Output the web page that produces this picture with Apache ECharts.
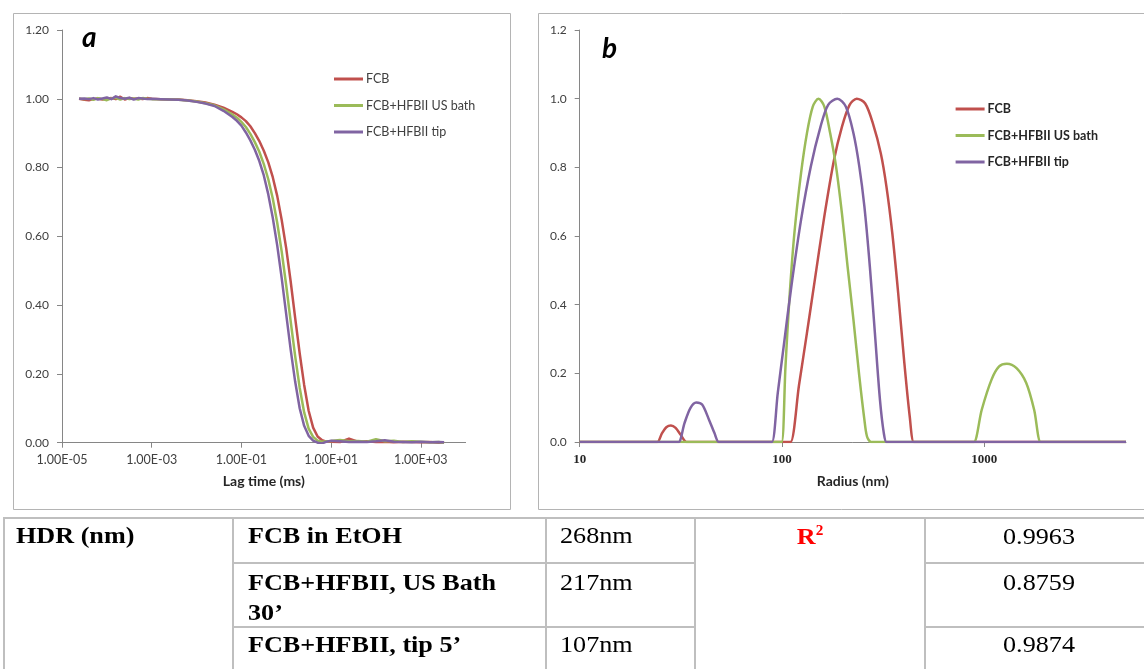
<!DOCTYPE html>
<html><head><meta charset="utf-8">
<script src="https://cdn.jsdelivr.net/npm/echarts@6/dist/echarts.min.js"></script>
<style>
html,body{margin:0;padding:0;background:#fff;}
#chart{position:absolute;left:0;top:0;width:1144px;height:669px;}
#tbl{position:absolute;left:0;top:0;}
#tbl text{font-family:"Liberation Serif","Times New Roman",serif;font-size:24px;fill:#000;}
</style>
</head><body>
<div id="chart"></div>
<svg id="tbl" width="1144" height="669"></svg>
<script>
// ---------- Data ----------
const seriesNames = ['FCB', 'FCB+HFBII US bath', 'FCB+HFBII tip'];
const seriesColors = ['#C0504D', '#9BBB59', '#8064A2'];

// (a) correlation functions, lag time given as log10(ms)
const lagLog10 = [-4.62,-4.5,-4.4,-4.3,-4.2,-4.1,-4.0,-3.9,-3.8,-3.7,-3.6,-3.5,-3.4,-3.3,-3.2,-3.1,-3.0,
  -2.8,-2.6,-2.4,-2.2,-2.0,-1.8,-1.6,-1.4,-1.2,
  -1.1,-1.0,-0.9,-0.8,-0.7,-0.6,-0.5,-0.4,-0.3,-0.2,-0.1,0.0,0.1,0.2,0.3,0.4,0.5,0.6,0.7,0.8,0.9,1.0,
  1.2,1.4,1.6,1.8,2.0,2.2,2.4,2.6,2.8,3.0,3.2,3.4,3.52];
const corrFCB = [1.000,0.997,0.996,0.999,1.001,0.998,1.000,1.002,0.999,1.006,0.998,1.002,1.000,1.001,0.999,1.002,1.000,
  0.999,0.998,0.998,0.996,0.993,0.989,0.983,0.974,0.962,
  0.955,0.946,0.935,0.920,0.900,0.877,0.849,0.815,0.772,0.717,0.647,0.565,0.468,0.362,0.260,0.168,0.093,0.044,0.018,0.007,0.003,0.003,
  0.002,0.012,0.003,0.004,0.002,0.003,0.001,0.003,0.002,0.001,0.002,0.000,0.001];
const corrBath = [1.000,0.999,1.001,0.997,1.002,0.999,0.996,1.001,1.003,0.998,1.002,0.999,1.001,0.998,1.002,1.000,0.999,
  0.999,0.998,0.997,0.995,0.992,0.987,0.981,0.969,0.954,
  0.945,0.933,0.918,0.898,0.874,0.846,0.810,0.766,0.710,0.639,0.555,0.457,0.352,0.251,0.160,0.088,0.041,0.017,0.006,0.003,0.004,0.005,
  0.008,0.004,0.005,0.003,0.010,0.004,0.006,0.002,0.004,0.003,0.001,0.002,0.000];
const corrTip = [1.000,1.001,0.999,1.002,0.998,1.001,1.004,0.999,1.007,1.002,1.000,1.003,0.998,1.002,1.001,0.999,1.000,
  0.999,0.998,0.997,0.995,0.991,0.986,0.979,0.965,0.947,
  0.936,0.922,0.902,0.879,0.852,0.819,0.777,0.722,0.654,0.573,0.478,0.373,0.270,0.177,0.100,0.049,0.020,0.006,0.000,-0.002,0.003,0.006,
  0.004,0.002,0.003,0.002,0.004,0.007,0.003,0.002,0.001,0.003,0.001,0.002,0.001];
const lagTickExponents = [-5, -3, -1, 1, 3];

// (b) size distributions, radius given as log10(nm)
const fcbLogR = [1.0,1.364,1.384,1.407,1.428,1.451,1.474,1.499,1.528,1.548,
  2.022,2.042,2.084,2.123,2.161,2.209,2.257,2.296,2.334,2.369,2.411,2.449,2.488,2.516,2.545,2.574,2.603,2.631,2.651,2.671,3.7];
const fcbInt  = [0,0,0,0.026,0.043,0.048,0.041,0.021,0,0,
  0,0,0.166,0.317,0.468,0.657,0.822,0.918,0.982,1.0,0.986,0.928,0.841,0.744,0.608,0.434,0.240,0.075,0,0,0];
const bathLogR = [1.0,1.978,1.998,2.017,2.036,2.061,2.094,2.123,2.152,2.180,2.209,2.238,2.267,2.296,2.324,2.353,2.382,2.407,2.420,2.44,2.46,
  2.928,2.948,2.987,3.035,3.073,3.111,3.159,3.207,3.246,3.278,3.298,3.7];
const bathInt  = [0,0,0,0.22,0.414,0.608,0.783,0.899,0.977,1.0,0.977,0.899,0.802,0.666,0.511,0.356,0.191,0.065,0.016,0,0,
  0,0,0.094,0.181,0.22,0.228,0.215,0.172,0.094,0,0,0];
const tipLogR = [1.0,1.469,1.489,1.518,1.547,1.576,1.605,1.639,1.666,1.687,1.707,
  1.930,1.950,1.979,2.008,2.046,2.094,2.142,2.190,2.228,2.273,2.315,2.353,2.382,2.407,2.434,2.459,2.484,2.503,2.516,2.536,3.7];
const tipInt  = [0,0,0,0.055,0.099,0.115,0.109,0.065,0.026,0,0,
  0,0,0.143,0.278,0.453,0.647,0.802,0.918,0.982,1.0,0.977,0.899,0.802,0.686,0.511,0.317,0.123,0.026,0,0,0];
const radiusTickExponents = [1, 2, 3];

// table
const tableRows = [
  ['FCB in EtOH', '268nm', '0.9963'],
  ['FCB+HFBII, US Bath|30\u2019', '217nm', '0.8759'],
  ['FCB+HFBII, tip 5\u2019', '107nm', '0.9874']
];

// ---------- Chart ----------
const zip = (xs, ys) => xs.map((x, i) => [x, ys[i]]);
const font = 'Lato, "Open Sans", sans-serif';
const lbl = '#404040';
const axisLine = { show: true, onZero: false, lineStyle: { color: '#868686', width: 1 } };
const axisTick = { show: true, length: 5, lineStyle: { color: '#868686' } };

const chart = echarts.init(document.getElementById('chart'), null, { renderer: 'canvas' });

function lineSeries(name, idx, data, color, smooth) {
  return {
    name, type: 'line', xAxisIndex: idx, yAxisIndex: idx, data,
    showSymbol: false, symbol: 'none', smooth: smooth, animation: false,
    lineStyle: { color, width: 2.5, join: 'round' }, itemStyle: { color }
  };
}

const option = {
  backgroundColor: '#fff',
  animation: false,
  textStyle: { fontFamily: font },
  grid: [
    { left: 62, top: 30, width: 403.6, height: 412.7 },
    { left: 579.7, top: 30, width: 546.3, height: 412 }
  ],
  xAxis: [
    {
      type: 'value', gridIndex: 0, min: -5, max: 4, interval: 1,
      axisLine, axisTick: Object.assign({ customValues: lagTickExponents }, axisTick),
      splitLine: { show: false },
      axisLabel: {
        customValues: lagTickExponents, margin: 11, color: lbl, fontSize: 12.5, fontFamily: font,
        formatter: v => { const e = Math.round(v); return '1.00E' + (e < 0 ? '-' : '+') + String(Math.abs(e)).padStart(2, '0'); }
      },
      name: 'Lag time (ms)', nameLocation: 'middle', nameGap: 32,
      nameTextStyle: { fontWeight: 'bold', fontSize: 14, color: '#262626', fontFamily: font }
    },
    {
      type: 'value', gridIndex: 1, min: 1, max: 3.7, interval: 1,
      axisLine, axisTick: Object.assign({ customValues: radiusTickExponents }, axisTick),
      splitLine: { show: false },
      axisLabel: {
        customValues: radiusTickExponents, margin: 11, color: '#262626', fontSize: 13, fontWeight: 'bold',
        fontFamily: '"Liberation Serif", serif',
        formatter: v => String(Math.round(Math.pow(10, v)))
      },
      name: 'Radius (nm)', nameLocation: 'middle', nameGap: 32,
      nameTextStyle: { fontWeight: 'bold', fontSize: 14, color: '#262626', fontFamily: font }
    }
  ],
  yAxis: [
    {
      type: 'value', gridIndex: 0, min: 0, max: 1.2, interval: 0.2,
      axisLine, axisTick, splitLine: { show: false },
      axisLabel: { margin: 13, color: lbl, fontSize: 12, fontFamily: font, formatter: v => v.toFixed(2) }
    },
    {
      type: 'value', gridIndex: 1, min: 0, max: 1.2, interval: 0.2,
      axisLine, axisTick, splitLine: { show: false },
      axisLabel: { margin: 13, color: lbl, fontSize: 12, fontFamily: font, formatter: v => v.toFixed(1) }
    }
  ],
  legend: [
    {
      data: seriesNames, orient: 'vertical', left: 334, top: 72, icon: 'rect', padding: 0,
      itemWidth: 29, itemHeight: 3, itemGap: 12.5, selectedMode: false,
      textStyle: { fontSize: 12.5, color: lbl, fontFamily: font, lineHeight: 14, padding: [0, 0, 0, -2] }
    },
    {
      data: seriesNames, orient: 'vertical', left: 955.6, top: 102, icon: 'rect', padding: 0,
      itemWidth: 29, itemHeight: 3, itemGap: 12.5, selectedMode: false,
      textStyle: { fontSize: 12.5, color: '#262626', fontWeight: 'bold', fontFamily: font, lineHeight: 14, padding: [0, 0, 0, -2] }
    }
  ],
  graphic: [
    { type: 'rect', shape: { x: 13.5, y: 13.5, width: 497, height: 496 }, style: { fill: 'none', stroke: '#b4b4b4', lineWidth: 1 }, z: -1 },
    { type: 'rect', shape: { x: 538.5, y: 13.5, width: 640, height: 496 }, style: { fill: 'none', stroke: '#b4b4b4', lineWidth: 1 }, z: -1 },
    { type: 'text', x: 82, y: 38, style: { text: 'a', font: 'italic bold 28px ' + font, fill: '#000', textVerticalAlign: 'middle' } },
    { type: 'text', x: 602, y: 49, style: { text: 'b', font: 'italic bold 28px ' + font, fill: '#000', textVerticalAlign: 'middle' } }
  ],
  series: [
    lineSeries(seriesNames[0], 0, zip(lagLog10, corrFCB), seriesColors[0], false),
    lineSeries(seriesNames[1], 0, zip(lagLog10, corrBath), seriesColors[1], false),
    lineSeries(seriesNames[2], 0, zip(lagLog10, corrTip), seriesColors[2], false),
    lineSeries(seriesNames[0], 1, zip(fcbLogR, fcbInt), seriesColors[0], 0.3),
    lineSeries(seriesNames[1], 1, zip(bathLogR, bathInt), seriesColors[1], 0.3),
    lineSeries(seriesNames[2], 1, zip(tipLogR, tipInt), seriesColors[2], 0.3)
  ]
};
chart.setOption(option);

// ---------- Table ----------
const svg = document.getElementById('tbl');
const NS = 'http://www.w3.org/2000/svg';
function line(x1, y1, x2, y2) {
  const l = document.createElementNS(NS, 'line');
  l.setAttribute('x1', x1); l.setAttribute('y1', y1); l.setAttribute('x2', x2); l.setAttribute('y2', y2);
  l.setAttribute('stroke', '#bfbfbf'); l.setAttribute('stroke-width', 2);
  svg.appendChild(l);
}
function text(str, x, y, opts) {
  opts = opts || {};
  const t = document.createElementNS(NS, 'text');
  t.setAttribute('transform', 'translate(' + x + ',' + y + ') scale(1.09,1)');
  if (opts.bold) t.setAttribute('font-weight', 'bold');
  if (opts.anchor) t.setAttribute('text-anchor', opts.anchor);
  if (opts.fill) t.style.fill = opts.fill;
  t.textContent = str;
  svg.appendChild(t);
  return t;
}
const colX = [4, 233, 546, 695, 925];
const rowY = [518, 563, 627];
line(3, rowY[0], 1144, rowY[0]);
colX.forEach(x => line(x, rowY[0], x, 669));
[rowY[1], rowY[2]].forEach(y => { line(colX[1], y, colX[3], y); line(colX[4], y, 1144, y); });

text('HDR (nm)', 16, 543, { bold: true });
const baselines = [[543], [590, 620], [652]];
tableRows.forEach((r, i) => {
  r[0].split('|').forEach((part, k) => text(part, 248, baselines[i][k], { bold: true }));
  text(r[1], 560, baselines[i][0]);
  text(r[2], 1039, baselines[i][0] + (i === 0 ? 1 : 0), { anchor: 'middle' });
});
const r2 = text('R', 810, 544, { bold: true, anchor: 'middle', fill: '#ff0000' });
const sup = document.createElementNS(NS, 'tspan');
sup.setAttribute('dy', '-9'); sup.setAttribute('font-size', '14');
sup.textContent = '2';
r2.appendChild(sup);
</script>
</body></html>
